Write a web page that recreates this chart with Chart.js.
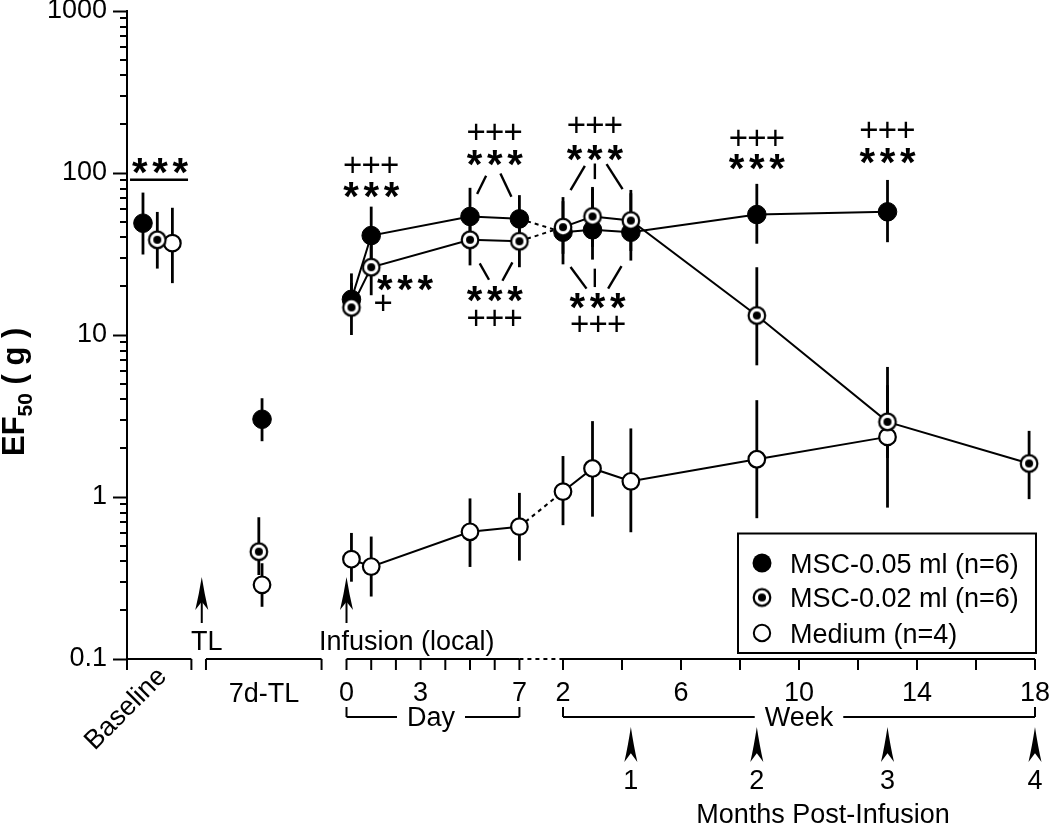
<!DOCTYPE html>
<html>
<head>
<meta charset="utf-8">
<script src="https://cdn.jsdelivr.net/npm/chart.js@4.4.1/dist/chart.umd.min.js"></script>
<style>
  html, body { margin: 0; padding: 0; background: #fff; }
</style>
</head>
<body>
<canvas id="ef50-chart" width="1050" height="823"></canvas>
<script>
'use strict';

// time points, in plotting order
const timeLabels = ['Baseline', '7d-TL', 'Day 0', 'Day 1', 'Day 5', 'Day 7',
    'Week 2', 'Week 3', 'Month 1', 'Month 2', 'Month 3', 'Week 18'];
const dayTimes = [0.2, 1, 5, 7];
const weekTimes = [2, 3, 4.3, 8.57, 13, 17.8];
// how each point is joined to the one before it
const links = ['none', 'none', 'none', 'solid', 'solid', 'solid', 'dash',
    'solid', 'solid', 'solid', 'solid', 'solid'];

const seriesNames = ['MSC-0.05 ml (n=6)', 'MSC-0.02 ml (n=6)', 'Medium (n=4)'];

const msc05Mean = [49, 3.02, 16.6, 41.1, 53.9, 52.1, 43.1, 44.6, 43.1, 55.4, 57.6, null];
const msc05Low = [31.4, 2.21, 13, 28, 38, 37, 27.3, 29.2, 28.8, 36.6, 37.4, null];
const msc05High = [75.7, 4.07, 24, 62, 81, 73, 71, 82, 78.6, 85.7, 90.6, null];

const msc02Mean = [38.7, 0.46, 14.8, 26.2, 38.7, 37.9, 46.3, 53.9, 50.9, 13.2, 2.91, 1.61];
const msc02Low = [25.7, 0.33, 10, 17.6, 26.9, 26.2, 31.7, 35, 33, 6.5, 1.74, 0.97];
const msc02High = [57.5, 0.75, 21, 38, 55, 53, 67, 80, 75, 26.2, 4.9, 2.56];

const mediumMean = [36.9, 0.287, 0.413, 0.372, 0.61, 0.656, 1.08, 1.5, 1.25, 1.71, 2.35, null];
const mediumLow = [20.9, 0.21, 0.30, 0.243, 0.37, 0.405, 0.67, 0.756, 0.606, 0.74, 0.86, null];
const mediumHigh = [61, 0.39, 0.60, 0.57, 0.98, 1.06, 1.79, 2.94, 2.65, 3.96, 6.35, null];

const yTickLabels = ['0.1', '1', '10', '100', '1000'];
const dayTicks = [0, 3, 7];
const weekTicks = [2, 6, 10, 14, 18];
const monthLabels = ['1', '2', '3', '4'];
const monthWeeks = [4.3, 8.57, 13, 18];

// ---- layout of the broken time axis (in day units) ----
const X_MIN = -8.887, X_MAX = 27.874;
const dayX = d => d;
const weekX = w => 8.765 + (w - 2) * 1.1943;
const BASE_X = [-8.24, -7.66, -7.05];
const TL_X = [-3.42, -3.55, -3.42];
const FONT = '"Liberation Sans", Arial, sans-serif';
const TXT = '27px ' + FONT;

function buildPoints(mean, low, high, s) {
    const xs = [BASE_X[s], TL_X[s], ...dayTimes.map(dayX), ...weekTimes.map(weekX)];
    return xs.map((x, i) => mean[i] == null ? null :
        {x: x, y: mean[i], lo: low[i], hi: high[i], link: links[i], label: timeLabels[i]})
        .filter(p => p);
}

function segmentStyle(points) {
    return {
        borderColor: ctx => points[ctx.p1DataIndex].link === 'none' ? 'rgba(0,0,0,0)' : '#000',
        borderDash: ctx => points[ctx.p1DataIndex].link === 'dash' ? [4, 4] : [],
    };
}

function ringDot() {
    const c = document.createElement('canvas');
    c.width = 22; c.height = 22;
    const g = c.getContext('2d');
    g.beginPath(); g.arc(11, 11, 8.3, 0, 2 * Math.PI);
    g.fillStyle = '#fff'; g.fill();
    g.lineWidth = 2.2; g.strokeStyle = '#000'; g.stroke();
    g.beginPath(); g.arc(11, 11, 4, 0, 2 * Math.PI);
    g.fillStyle = '#000'; g.fill();
    return c;
}
const ringImg = ringDot();

// significance marks: anchor in data units, then pixel offsets
const sigGroups = [
    {x: -7.55, y: 110.8, rows: [['***', 0, 0]], lines: [[-30, 14, 28, 14]]},
    {x: dayX(1), y: 78.5, rows: [['***', 0, 0], ['+++', 0, -26]], lines: []},
    {x: 2.37, y: 20.9, rows: [['***', 0, 0], ['+', -22, 19]], lines: []},
    {x: dayX(6), y: 123.7, rows: [['***', 0, 0], ['+++', 0, -27]],
        lines: [[-8.6, 17.7, -17.6, 36], [5.7, 15.4, 16.7, 38.7]]},
    {x: dayX(6), y: 17.9, rows: [['***', 0, 0], ['+++', 0, 23.4]],
        lines: [[-15, -30.6, -5.7, -14.3], [17.7, -31.6, 7.7, -13.3]]},
    {x: weekX(3.08), y: 133.8, rows: [['***', 0, 0], ['+++', 0, -27.7]],
        lines: [[-10, 13.3, -24.3, 37.6], [0, 11, 0, 26.6], [11.7, 11.6, 27.7, 36.6]]},
    {x: weekX(3.17), y: 16.2, rows: [['***', 0, 0], ['+++', 0.6, 22]],
        lines: [[-27, -34, -11, -12.4], [-2.7, -32.4, -2.7, -14], [24, -35, 10.6, -12.4]]},
    {x: weekX(8.57), y: 116.1, rows: [['***', 0, 0], ['+++', 0, -25]], lines: []},
    {x: weekX(13), y: 127.8, rows: [['***', 0, 0], ['+++', 0, -26.7]], lines: []},
];

function centerText(g, text, cx, cy) {
    const m = g.measureText(text);
    g.fillText(text, cx, cy + (m.actualBoundingBoxAscent - m.actualBoundingBoxDescent) / 2);
}

function arrowHead(g, x, tipY, len, halfW) {
    g.beginPath();
    g.moveTo(x, tipY);
    g.quadraticCurveTo(x - halfW * 0.45, tipY + len * 0.55, x - halfW, tipY + len);
    g.lineTo(x, tipY + len * 0.75);
    g.lineTo(x + halfW, tipY + len);
    g.quadraticCurveTo(x + halfW * 0.45, tipY + len * 0.55, x, tipY);
    g.closePath();
    g.fill();
}

function line(g, x1, y1, x2, y2) {
    g.beginPath(); g.moveTo(x1, y1); g.lineTo(x2, y2); g.stroke();
}

const isMajor = v => Math.abs(Math.log10(v) - Math.round(Math.log10(v))) < 1e-6;
const yTickValues = [];
for (let k = -1; k <= 2; k++) {
    for (let m = 1; m <= 9; m++) yTickValues.push(m * Math.pow(10, k));
}
yTickValues.push(1000);

const decor = {
    id: 'decor',
    beforeDatasetsDraw(chart) {
        const g = chart.ctx, xs = chart.scales.x, ys = chart.scales.y;
        g.save();
        g.strokeStyle = '#000';
        g.lineWidth = 2.8;
        chart.data.datasets.forEach(ds => {
            ds.data.forEach(p => {
                const x = xs.getPixelForValue(p.x);
                line(g, x, ys.getPixelForValue(p.lo), x, ys.getPixelForValue(p.hi));
            });
        });
        g.restore();
    },
    afterDraw(chart) {
        const g = chart.ctx, xs = chart.scales.x, ys = chart.scales.y;
        const area = chart.chartArea;
        const px = v => xs.getPixelForValue(v);
        const bottom = area.bottom, left = area.left;
        g.save();
        g.strokeStyle = '#000';
        g.fillStyle = '#000';
        g.lineWidth = 2;

        // minor y ticks and the y axis running below 0.1
        yTickValues.filter(v => !isMajor(v)).forEach(v => {
            const y = Math.round(ys.getPixelForValue(v));
            line(g, left - 7, y, left, y);
        });
        line(g, left, bottom, left, bottom + 11);

        // broken x axis
        const tickDown = x => line(g, x, bottom, x, bottom + 11);
        line(g, left, bottom, px(-6.28), bottom);
        tickDown(px(-6.28));
        line(g, px(-5.69), bottom, px(-1.01), bottom);
        tickDown(px(-5.69)); tickDown(px(-1.01));
        line(g, px(dayX(0)), bottom, px(dayX(7)), bottom);
        for (let d = 0; d <= 7; d++) tickDown(px(dayX(d)));
        g.setLineDash([4, 4]);
        line(g, px(dayX(7)), bottom, px(weekX(2)), bottom);
        g.setLineDash([]);
        line(g, px(weekX(2)), bottom, px(weekX(18)), bottom);
        for (let w = 2; w <= 18; w += 2) tickDown(px(weekX(w)));

        g.font = TXT;
        g.textAlign = 'center';
        dayTicks.forEach(d => centerText(g, String(d), px(dayX(d)), 691.5));
        weekTicks.forEach(w => centerText(g, String(w), px(weekX(w)), 691.5));
        centerText(g, '7d-TL', px(TL_X[0]) + 2, 691.5);

        g.save();
        g.translate(126, 709);
        g.rotate(-Math.PI / 4);
        g.textBaseline = 'middle';
        g.fillText('Baseline', 0, 0);
        g.restore();

        // brackets
        const bracket = (x1, x2, label, cx) => {
            g.font = TXT;
            const w = g.measureText(label).width;
            line(g, x1, 707, x1, 717);
            line(g, x2, 707, x2, 717);
            line(g, x1, 717, cx - w / 2 - 10, 717);
            line(g, cx + w / 2 + 10, 717, x2, 717);
            g.textAlign = 'center';
            g.textBaseline = 'alphabetic';
            g.fillText(label, cx, 726);
        };
        bracket(px(dayX(0)), px(dayX(7)), 'Day', 431);
        bracket(px(weekX(2)), px(weekX(18)), 'Week', px(weekX(10)));

        // month arrowheads
        monthWeeks.forEach((w, i) => {
            const x = px(weekX(w));
            arrowHead(g, x, 727, 35, 6.5);
            centerText(g, monthLabels[i], x, 779);
        });
        centerText(g, 'Months Post-Infusion', 823, 813);

        // TL and infusion arrows
        [[px(-5.86), 'TL', 206.7], [px(dayX(0)), 'Infusion (local)', 406.7]].forEach(([x, label, cx]) => {
            arrowHead(g, x, 577, 33, 6.5);
            line(g, x, 598, x, 623);
            g.textAlign = 'center';
            g.textBaseline = 'alphabetic';
            g.fillText(label, cx, 650);
        });

        // significance marks
        sigGroups.forEach(grp => {
            const ax = px(grp.x), ay = ys.getPixelForValue(grp.y);
            grp.rows.forEach(([text, dx, dy]) => {
                const star = text[0] === '*';
                g.font = star ? 'bold 40px ' + FONT : '33px ' + FONT;
                const step = star ? 20.3 : 18.5;
                for (let i = 0; i < text.length; i++) {
                    centerText(g, text[i], ax + dx + (i - (text.length - 1) / 2) * step, ay + dy);
                }
            });
            g.lineWidth = 2.4;
            grp.lines.forEach(([x1, y1, x2, y2]) => line(g, ax + x1, ay + y1, ax + x2, ay + y2));
            g.lineWidth = 2;
        });

        // y axis title
        g.save();
        g.translate(23.5, 456);
        g.rotate(-Math.PI / 2);
        g.textAlign = 'left';
        g.textBaseline = 'alphabetic';
        g.font = 'bold 31px ' + FONT;
        g.fillText('EF', 0, 0);
        let tw = g.measureText('EF').width;
        g.font = 'bold 21px ' + FONT;
        g.fillText('50', tw, 8.5);
        tw += g.measureText('50').width;
        g.font = 'bold 31px ' + FONT;
        g.fillText(' ( g )', tw, 0);
        g.restore();

        // legend
        g.lineWidth = 2;
        g.strokeRect(738, 533.5, 298, 119.5);
        const ly = [563, 597.5, 633];
        g.beginPath(); g.arc(762, ly[0], 9.5, 0, 2 * Math.PI); g.fill();
        g.drawImage(ringImg, 762 - 11, ly[1] - 11);
        g.beginPath(); g.arc(762, ly[2], 8.2, 0, 2 * Math.PI);
        g.fillStyle = '#fff'; g.fill(); g.stroke();
        g.fillStyle = '#000';
        g.font = TXT;
        g.textAlign = 'left';
        g.textBaseline = 'alphabetic';
        seriesNames.forEach((name, i) => g.fillText(name, 790, ly[i] + 9.7));
        g.restore();
    }
};

window.addEventListener('load', () => {
    const p05 = buildPoints(msc05Mean, msc05Low, msc05High, 0);
    const p02 = buildPoints(msc02Mean, msc02Low, msc02High, 1);
    const pMed = buildPoints(mediumMean, mediumLow, mediumHigh, 2);

    const config = {
        type: 'scatter',
        data: {
            datasets: [
                {
                    label: seriesNames[1], data: p02, showLine: true, clip: false,
                    borderColor: '#000', borderWidth: 2, segment: segmentStyle(p02),
                    pointStyle: ringImg, pointRadius: 9,
                },
                {
                    label: seriesNames[0], data: p05, showLine: true, clip: false,
                    borderColor: '#000', borderWidth: 2, segment: segmentStyle(p05),
                    pointStyle: 'circle', pointRadius: 9.3, pointBorderWidth: 1,
                    pointBackgroundColor: '#000', pointBorderColor: '#000',
                },
                {
                    label: seriesNames[2], data: pMed, showLine: true, clip: false,
                    borderColor: '#000', borderWidth: 2, segment: segmentStyle(pMed),
                    pointStyle: 'circle', pointRadius: 8.3, pointBorderWidth: 2.2,
                    pointBackgroundColor: '#fff', pointBorderColor: '#000',
                },
            ]
        },
        options: {
            responsive: false,
            animation: false,
            events: [],
            layout: {padding: {top: 10, right: 15, bottom: 164, left: 0}},
            plugins: {legend: {display: false}, tooltip: {enabled: false}},
            scales: {
                x: {type: 'linear', min: X_MIN, max: X_MAX, display: false},
                y: {
                    type: 'logarithmic', min: 0.1, max: 1000,
                    afterBuildTicks: scale => {
                        scale.ticks = yTickValues.map(v => ({value: v}));
                    },
                    afterFit: scale => { scale.width = 127; },
                    ticks: {
                        autoSkip: false, padding: 6, color: '#000',
                        font: {family: FONT, size: 27, lineHeight: 0.25},
                        callback: v => isMajor(v) ? yTickLabels[Math.round(Math.log10(v)) + 1] : '',
                    },
                    grid: {
                        drawOnChartArea: false, tickLength: 14, tickWidth: 2,
                        tickColor: ctx => isMajor(ctx.tick.value) ? '#000' : 'rgba(0,0,0,0)',
                    },
                    border: {color: '#000', width: 2},
                },
            },
        },
        plugins: [decor],
    };
    new Chart(document.getElementById('ef50-chart'), config);
});
</script>
</body>
</html>
